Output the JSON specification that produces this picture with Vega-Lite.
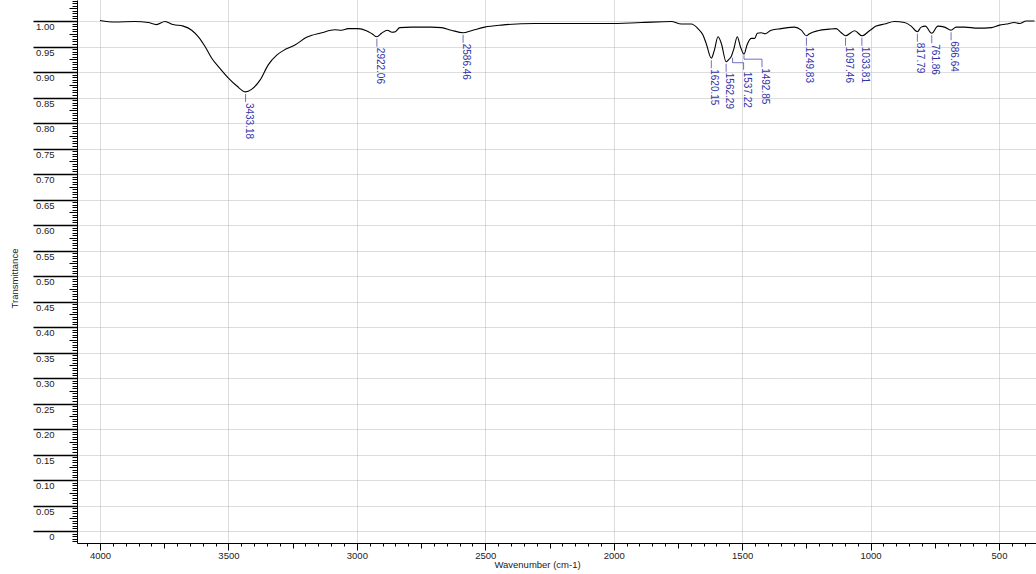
{
  "$schema": "https://vega.github.io/schema/vega-lite/v6.json",
  "width": 959,
  "height": 543,
  "autosize": "none",
  "padding": {"left": 77, "top": 0, "right": 0, "bottom": 31},
  "background": "white",
  "config": {"view": {"stroke": null}, "font": "Liberation Sans"},
  "datasets": {
    "spectrum": [
      {"wavenumber": 4000, "transmittance": 1.001},
      {"wavenumber": 3942, "transmittance": 0.998},
      {"wavenumber": 3864, "transmittance": 0.999},
      {"wavenumber": 3812, "transmittance": 0.997},
      {"wavenumber": 3780, "transmittance": 0.993},
      {"wavenumber": 3747, "transmittance": 0.999},
      {"wavenumber": 3715, "transmittance": 0.993},
      {"wavenumber": 3676, "transmittance": 0.990},
      {"wavenumber": 3643, "transmittance": 0.982},
      {"wavenumber": 3617, "transmittance": 0.969},
      {"wavenumber": 3591, "transmittance": 0.950},
      {"wavenumber": 3565, "transmittance": 0.927},
      {"wavenumber": 3533, "transmittance": 0.907},
      {"wavenumber": 3500, "transmittance": 0.888},
      {"wavenumber": 3468, "transmittance": 0.873},
      {"wavenumber": 3433.18, "transmittance": 0.861},
      {"wavenumber": 3410, "transmittance": 0.866},
      {"wavenumber": 3377, "transmittance": 0.884},
      {"wavenumber": 3345, "transmittance": 0.914},
      {"wavenumber": 3312, "transmittance": 0.933},
      {"wavenumber": 3280, "transmittance": 0.944},
      {"wavenumber": 3241, "transmittance": 0.953},
      {"wavenumber": 3196, "transmittance": 0.968},
      {"wavenumber": 3137, "transmittance": 0.977},
      {"wavenumber": 3086, "transmittance": 0.983},
      {"wavenumber": 3060, "transmittance": 0.982},
      {"wavenumber": 3034, "transmittance": 0.985},
      {"wavenumber": 2995, "transmittance": 0.985},
      {"wavenumber": 2963, "transmittance": 0.981},
      {"wavenumber": 2941, "transmittance": 0.975},
      {"wavenumber": 2922.06, "transmittance": 0.969},
      {"wavenumber": 2904, "transmittance": 0.976},
      {"wavenumber": 2881, "transmittance": 0.982},
      {"wavenumber": 2863, "transmittance": 0.978},
      {"wavenumber": 2850, "transmittance": 0.979},
      {"wavenumber": 2833, "transmittance": 0.987},
      {"wavenumber": 2788, "transmittance": 0.988},
      {"wavenumber": 2710, "transmittance": 0.988},
      {"wavenumber": 2671, "transmittance": 0.987},
      {"wavenumber": 2632, "transmittance": 0.982},
      {"wavenumber": 2586.46, "transmittance": 0.977},
      {"wavenumber": 2554, "transmittance": 0.981},
      {"wavenumber": 2502, "transmittance": 0.988},
      {"wavenumber": 2437, "transmittance": 0.992},
      {"wavenumber": 2307, "transmittance": 0.995},
      {"wavenumber": 2152, "transmittance": 0.995},
      {"wavenumber": 2022, "transmittance": 0.995},
      {"wavenumber": 1893, "transmittance": 0.997},
      {"wavenumber": 1776, "transmittance": 0.999},
      {"wavenumber": 1737, "transmittance": 0.994},
      {"wavenumber": 1698, "transmittance": 0.994},
      {"wavenumber": 1672, "transmittance": 0.985},
      {"wavenumber": 1653, "transmittance": 0.973},
      {"wavenumber": 1640, "transmittance": 0.956},
      {"wavenumber": 1620.15, "transmittance": 0.927},
      {"wavenumber": 1608, "transmittance": 0.943},
      {"wavenumber": 1594, "transmittance": 0.969},
      {"wavenumber": 1581, "transmittance": 0.956},
      {"wavenumber": 1562.29, "transmittance": 0.920},
      {"wavenumber": 1553, "transmittance": 0.924},
      {"wavenumber": 1543, "transmittance": 0.930},
      {"wavenumber": 1532, "transmittance": 0.946},
      {"wavenumber": 1519, "transmittance": 0.969},
      {"wavenumber": 1507, "transmittance": 0.950},
      {"wavenumber": 1492.85, "transmittance": 0.935},
      {"wavenumber": 1481, "transmittance": 0.953},
      {"wavenumber": 1465, "transmittance": 0.966},
      {"wavenumber": 1451, "transmittance": 0.966},
      {"wavenumber": 1441, "transmittance": 0.976},
      {"wavenumber": 1426, "transmittance": 0.977},
      {"wavenumber": 1410, "transmittance": 0.975},
      {"wavenumber": 1387, "transmittance": 0.982},
      {"wavenumber": 1348, "transmittance": 0.985},
      {"wavenumber": 1296, "transmittance": 0.988},
      {"wavenumber": 1270, "transmittance": 0.982},
      {"wavenumber": 1249.83, "transmittance": 0.971},
      {"wavenumber": 1238, "transmittance": 0.975},
      {"wavenumber": 1205, "transmittance": 0.981},
      {"wavenumber": 1160, "transmittance": 0.984},
      {"wavenumber": 1134, "transmittance": 0.985},
      {"wavenumber": 1114, "transmittance": 0.977},
      {"wavenumber": 1097.46, "transmittance": 0.971},
      {"wavenumber": 1062, "transmittance": 0.981},
      {"wavenumber": 1033.81, "transmittance": 0.971},
      {"wavenumber": 1004, "transmittance": 0.981},
      {"wavenumber": 978, "transmittance": 0.990},
      {"wavenumber": 946, "transmittance": 0.994},
      {"wavenumber": 907, "transmittance": 0.999},
      {"wavenumber": 868, "transmittance": 0.997},
      {"wavenumber": 842, "transmittance": 0.990},
      {"wavenumber": 817.79, "transmittance": 0.979},
      {"wavenumber": 803, "transmittance": 0.988},
      {"wavenumber": 787, "transmittance": 0.990},
      {"wavenumber": 761.86, "transmittance": 0.976},
      {"wavenumber": 738, "transmittance": 0.990},
      {"wavenumber": 712, "transmittance": 0.988},
      {"wavenumber": 686.64, "transmittance": 0.982},
      {"wavenumber": 667, "transmittance": 0.988},
      {"wavenumber": 634, "transmittance": 0.988},
      {"wavenumber": 582, "transmittance": 0.986},
      {"wavenumber": 530, "transmittance": 0.987},
      {"wavenumber": 498, "transmittance": 0.992},
      {"wavenumber": 472, "transmittance": 0.994},
      {"wavenumber": 440, "transmittance": 0.997},
      {"wavenumber": 420, "transmittance": 0.995},
      {"wavenumber": 394, "transmittance": 1.000},
      {"wavenumber": 362, "transmittance": 1.000}
    ],
    "peaks": [
      {"wavenumber": 3433.18, "transmittance": 0.861, "label": "3433.18"},
      {"wavenumber": 2922.06, "transmittance": 0.969, "label": "2922.06"},
      {"wavenumber": 2586.46, "transmittance": 0.977, "label": "2586.46"},
      {"wavenumber": 1620.15, "transmittance": 0.927, "label": "1620.15"},
      {"wavenumber": 1562.29, "transmittance": 0.920, "label": "1562.29"},
      {"wavenumber": 1537.22, "transmittance": 0.930, "label": "1537.22"},
      {"wavenumber": 1492.85, "transmittance": 0.935, "label": "1492.85"},
      {"wavenumber": 1249.83, "transmittance": 0.971, "label": "1249.83"},
      {"wavenumber": 1097.46, "transmittance": 0.971, "label": "1097.46"},
      {"wavenumber": 1033.81, "transmittance": 0.971, "label": "1033.81"},
      {"wavenumber": 817.79, "transmittance": 0.979, "label": "817.79"},
      {"wavenumber": 761.86, "transmittance": 0.976, "label": "761.86"},
      {"wavenumber": 686.64, "transmittance": 0.982, "label": "686.64"}
    ]
  },
  "encoding": {
    "x": {
      "field": "wavenumber",
      "type": "quantitative",
      "scale": {"domain": [356, 4089.5], "reverse": true, "nice": false, "zero": false},
      "axis": {
        "title": "Wavenumber (cm-1)",
        "tickCount": 75,
        "format": "d",
        "labelExpr": "datum.value % 500 == 0 ? datum.label : ''",
        "tickSize": {"condition": [{"test": "datum.value % 500 == 0", "value": 7}, {"test": "datum.value % 250 == 0", "value": 5}], "value": 3},
        "tickColor": "black",
        "domainColor": "black",
        "gridOpacity": {"condition": {"test": "datum.value % 500 == 0", "value": 1}, "value": 0},
        "gridColor": "#b8b8b8",
        "gridDash": [1, 1],
        "labelOverlap": false,
        "labelFlush": false,
        "labelFontSize": 9.5,
        "labelColor": "#222222",
        "labelPadding": 0,
        "titleFontSize": 9.5,
        "titleFontWeight": "normal",
        "titleColor": "#222222",
        "titlePadding": 0,
        "titleX": 460
      }
    },
    "y": {
      "field": "transmittance",
      "type": "quantitative",
      "scale": {"domain": [-0.0235, 1.0412], "nice": false, "zero": false},
      "axis": {
        "title": "Transmittance",
        "tickCount": 212,
        "labelExpr": "abs(datum.value*20-round(datum.value*20))<0.01 && datum.value > -0.001 && datum.value < 1.001 ? (abs(datum.value) < 0.001 ? '0' : format(datum.value, '.2f')) : ''",
        "tickSize": {"condition": [{"test": "abs(datum.value*20-round(datum.value*20))<0.01", "value": 44}, {"test": "abs(datum.value*40-round(datum.value*40))<0.01", "value": 8}], "value": 5},
        "tickWidth": {"condition": {"test": "abs(datum.value*20-round(datum.value*20))<0.01", "value": 1.5}, "value": 1},
        "tickColor": "black",
        "domainColor": "black",
        "labelPadding": -21,
        "labelBaseline": "top",
        "labelOffset": 0.5,
        "labelAlign": "right",
        "labelOverlap": false,
        "labelBound": false,
        "labelFlush": false,
        "labelFontSize": 9.5,
        "labelColor": "#222222",
        "gridOpacity": {"condition": {"test": "abs(datum.value*20-round(datum.value*20))<0.01 && datum.value > -0.001", "value": 1}, "value": 0},
        "gridColor": "#b8b8b8",
        "gridDash": [1, 1],
        "titleFontSize": 9.5,
        "titleFontWeight": "normal",
        "titleColor": "#222222",
        "titlePadding": 13,
        "titleY": 278
      }
    }
  },
  "layer": [
    {
      "data": {"name": "spectrum"},
      "mark": {"type": "line", "color": "black", "strokeWidth": 1.1, "interpolate": "monotone"}
    },
    {
      "data": {"name": "peaks"},
      "transform": [{"filter": "datum.label != '1537.22' && datum.label != '1492.85'"}],
      "mark": {"type": "tick", "orient": "vertical", "size": 8, "thickness": 1, "yOffset": 6, "color": "#3333aa"}
    },
    {
      "data": {"name": "peaks"},
      "transform": [{"filter": "datum.label != '1537.22' && datum.label != '1492.85'"}],
      "mark": {"type": "text", "angle": 90, "align": "left", "baseline": "alphabetic", "dx": 11, "fontSize": 10, "color": "#3333aa"},
      "encoding": {"text": {"field": "label"}}
    },
    {
      "data": {"name": "peaks"},
      "transform": [{"filter": "datum.label == '1537.22'"}],
      "mark": {"type": "tick", "orient": "vertical", "size": 5, "thickness": 1, "yOffset": 3.5, "color": "#3333aa"}
    },
    {
      "data": {"name": "peaks"},
      "transform": [{"filter": "datum.label == '1537.22'"}],
      "mark": {"type": "tick", "orient": "horizontal", "size": 11, "thickness": 1, "xOffset": 5.5, "yOffset": 6, "color": "#3333aa"}
    },
    {
      "data": {"name": "peaks"},
      "transform": [{"filter": "datum.label == '1537.22'"}],
      "mark": {"type": "tick", "orient": "vertical", "size": 7, "thickness": 1, "xOffset": 11, "yOffset": 9.5, "color": "#3333aa"}
    },
    {
      "data": {"name": "peaks"},
      "transform": [{"filter": "datum.label == '1537.22'"}],
      "mark": {"type": "text", "angle": 90, "align": "left", "baseline": "alphabetic", "dx": 15, "xOffset": 11, "fontSize": 10, "color": "#3333aa"},
      "encoding": {"text": {"field": "label"}}
    },
    {
      "data": {"name": "peaks"},
      "transform": [{"filter": "datum.label == '1492.85'"}],
      "mark": {"type": "tick", "orient": "vertical", "size": 4, "thickness": 1, "yOffset": 3, "color": "#3333aa"}
    },
    {
      "data": {"name": "peaks"},
      "transform": [{"filter": "datum.label == '1492.85'"}],
      "mark": {"type": "tick", "orient": "horizontal", "size": 18, "thickness": 1, "xOffset": 9, "yOffset": 5, "color": "#3333aa"}
    },
    {
      "data": {"name": "peaks"},
      "transform": [{"filter": "datum.label == '1492.85'"}],
      "mark": {"type": "tick", "orient": "vertical", "size": 8, "thickness": 1, "xOffset": 18, "yOffset": 9, "color": "#3333aa"}
    },
    {
      "data": {"name": "peaks"},
      "transform": [{"filter": "datum.label == '1492.85'"}],
      "mark": {"type": "text", "angle": 90, "align": "left", "baseline": "alphabetic", "dx": 14, "xOffset": 18, "fontSize": 10, "color": "#3333aa"},
      "encoding": {"text": {"field": "label"}}
    }
  ]
}
